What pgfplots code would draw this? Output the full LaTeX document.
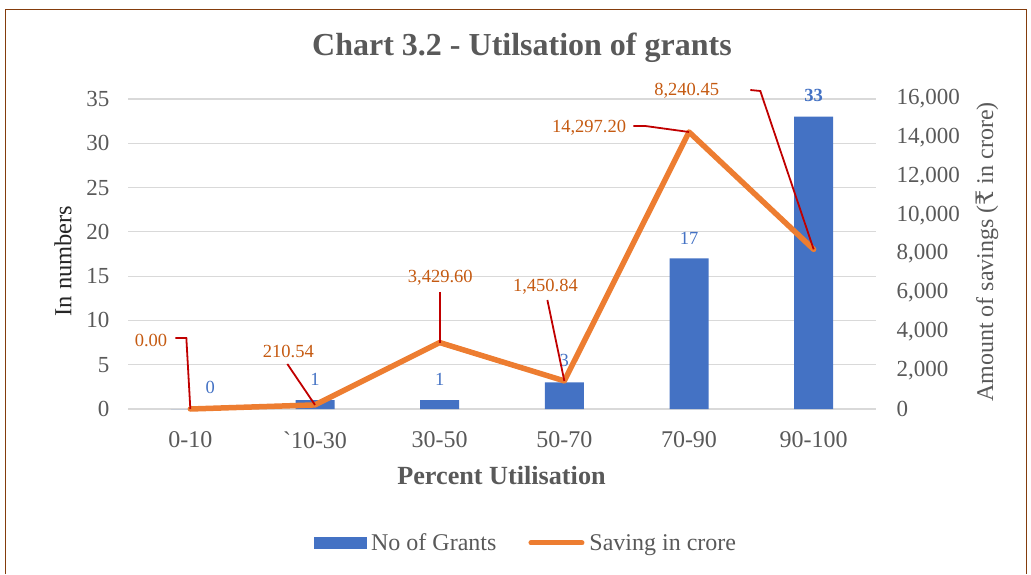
\documentclass[border=0pt]{standalone}
\usepackage{fontspec}
\setmainfont{Liberation Serif}
\newfontfamily\rupeefont{DejaVu Serif}
\usepackage{pgfplots}
\pgfplotsset{compat=1.18}
\definecolor{barblue}{HTML}{4472C4}
\definecolor{lineorange}{HTML}{ED7D31}
\definecolor{lblorange}{HTML}{C55A11}
\definecolor{leadred}{HTML}{C00000}
\definecolor{txtgray}{HTML}{595959}
\definecolor{gridgray}{HTML}{D9D9D9}
\definecolor{bordercol}{HTML}{843C0C}
\newcommand{\fs}[1]{\fontsize{#1}{#1}\selectfont}
\begin{document}
\begin{tikzpicture}
\path[use as bounding box] (0,0) rectangle (1031pt,574pt);
\draw[bordercol, line width=1.5pt] (5.5pt,0) -- (5.5pt,564.5pt) -- (1026.5pt,564.5pt) -- (1026.5pt,0);

\begin{axis}[
  at={(128pt,165pt)}, anchor=south west, scale only axis,
  width=748pt, height=310pt,
  xmin=-0.5, xmax=5.5, ymin=0, ymax=35,
  xtick={0,...,5},
  xticklabels={0-10,\textasciigrave10-30,30-50,50-70,70-90,90-100},
  ytick={0,5,...,35},
  axis line style={draw=none},
  tick style={draw=none},
  ymajorgrids, grid style={gridgray, line width=1.2pt},
  /pgf/number format/assume math mode=true,
  yticklabel style={font=\fs{23}, text=txtgray, xshift=-15pt},
  xticklabel style={font=\fs{24}, text=txtgray, yshift=-19pt},
  clip=false,
]
\addplot[ybar, bar width=39pt, fill=barblue, draw=none] coordinates {(0,0) (1,1) (2,1) (3,3) (4,17) (5,33)};
\node[text=barblue, font=\fs{18.5}] at (axis cs:0.16,2.48) {0};
\node[text=barblue, font=\fs{18.5}] at (axis cs:1,3.39) {1};
\node[text=barblue, font=\fs{18.5}] at (axis cs:2,3.39) {1};
\node[text=barblue, font=\fs{18.5}] at (axis cs:3,5.53) {3};
\node[text=barblue, font=\fs{18.5}] at (axis cs:4,19.3) {17};
\node[text=barblue, font=\bfseries\fs{18.5}] at (axis cs:5,35.45) {33};
\end{axis}

\begin{axis}[
  at={(128pt,165pt)}, anchor=south west, scale only axis,
  width=748pt, height=310pt,
  xmin=-0.5, xmax=5.5, ymin=0, ymax=16000,
  xtick=\empty,
  ytick={0,2000,...,16000},
  ytick pos=right, yticklabel pos=right,
  scaled y ticks=false,
  axis line style={draw=none},
  tick style={draw=none},
  /pgf/number format/assume math mode=true,
  yticklabel style={font=\fs{23}, text=txtgray, xshift=17pt, /pgf/number format/.cd, fixed, 1000 sep={,}},
  clip=false,
  legend columns=2,
  legend style={draw=none, fill=none, font=\fs{24}, text=txtgray,
    at={(0.532,-0.432)}, anchor=center,
    /tikz/every odd column/.append style={column sep=3pt},
    /tikz/every even column/.append style={column sep=30pt}},
]
\addlegendimage{legend image code/.code={\fill[barblue] (0pt,-5.5pt) rectangle (52pt,5.5pt);}}
\addlegendentry{No of Grants}
\addplot[lineorange, line width=5.5pt, line join=round, line cap=round, mark=none,
  legend image code/.code={\draw[lineorange,line width=5pt,line cap=round] (2pt,0pt) -- (53pt,0pt);}]
  coordinates {(0,0) (1,210.54) (2,3429.60) (3,1450.84) (4,14297.20) (5,8240.45)};
\addlegendentry{Saving in crore}
% leader lines
\draw[leadred, line width=1.8pt] (axis cs:-0.120,3665) -- (axis cs:-0.032,3665) -- (axis cs:0,0);
\draw[leadred, line width=1.8pt] (axis cs:0.778,2323) -- (axis cs:1,210.54);
\draw[leadred, line width=1.8pt] (axis cs:2,6039) -- (axis cs:2,3429.60);
\draw[leadred, line width=1.8pt] (axis cs:2.864,5626) -- (axis cs:3,1450.84);
\draw[leadred, line width=1.8pt] (axis cs:3.553,14606) -- (axis cs:3.650,14606) -- (axis cs:4,14297.20);
\draw[leadred, line width=1.8pt] (axis cs:4.492,16465) -- (axis cs:4.572,16413) -- (axis cs:5,8240.45);
% labels
\node[text=lblorange, font=\fs{18.5}, anchor=east, inner sep=0pt] at (axis cs:-0.184,3561) {0.00};
\node[text=lblorange, font=\fs{18.5}] at (axis cs:0.786,2994) {210.54};
\node[text=lblorange, font=\fs{18.5}] at (axis cs:2.005,6761) {3,429.60};
\node[text=lblorange, font=\fs{18.5}] at (axis cs:2.848,6297) {1,450.84};
\node[text=lblorange, font=\fs{18.5}, anchor=east, inner sep=0pt] at (axis cs:3.497,14503) {14,297.20};
\node[text=lblorange, font=\fs{18.5}, anchor=east, inner sep=0pt] at (axis cs:4.243,16413) {8,240.45};
\end{axis}

\node[text=txtgray, font=\bfseries\fs{32}] at (522pt,526pt) {Chart 3.2 - Utilsation of grants};
\node[text=txtgray, font=\bfseries\fs{26.2}] at (501.5pt,98pt) {Percent Utilisation};
\node[text=black!85, font=\fs{24.5}, rotate=90] at (63pt,313pt) {In numbers};
\node[text=txtgray, font=\fs{24}, rotate=90] at (987pt,322pt) {Amount of savings ({\rupeefont ₹} in crore)};
\end{tikzpicture}
\end{document}
